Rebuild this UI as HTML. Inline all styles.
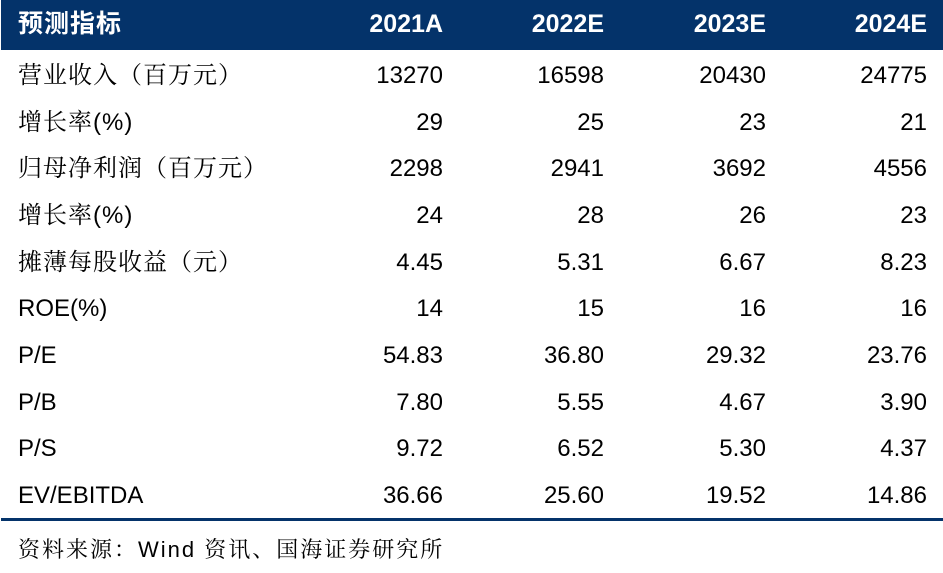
<!DOCTYPE html>
<html><head><meta charset="utf-8"><style>
body{margin:0;width:943px;height:573px;background:#fff;font-family:"Liberation Sans","Noto Serif CJK SC",serif;color:#000;position:relative;overflow:hidden}
.hdr{position:absolute;left:1px;top:0;width:942px;height:50px;background:#04336a}
.cell{position:absolute;white-space:nowrap;line-height:1}
.h{color:#fff;font-weight:bold;font-size:25px;top:12px;font-family:"Liberation Sans","Noto Sans CJK SC",sans-serif}
.r{font-size:24px}
.lab{letter-spacing:1px}
.line{position:absolute;left:1px;width:942px;top:518px;height:3px;background:#04336a}
.src{position:absolute;left:18px;top:533px;font-size:22px;letter-spacing:2px}
</style></head><body>
<div class="hdr"></div>
<div class="cell h" style="left:18px;letter-spacing:1px">预测指标</div>
<div class="cell h" style="right:500px">2021A</div>
<div class="cell h" style="right:339px">2022E</div>
<div class="cell h" style="right:177px">2023E</div>
<div class="cell h" style="right:16px">2024E</div>
<div id="rows"></div>
<div class="line"></div>
<div class="src">资料来源：Wind 资讯、国海证券研究所</div>
<script>
const labels=["营业收入（百万元）","增长率(%)","归母净利润（百万元）","增长率(%)","摊薄每股收益（元）","ROE(%)","P/E","P/B","P/S","EV/EBITDA"];
const v2021=["13270","29","2298","24","4.45","14","54.83","7.80","9.72","36.66"];
const v2022=["16598","25","2941","28","5.31","15","36.80","5.55","6.52","25.60"];
const v2023=["20430","23","3692","26","6.67","16","29.32","4.67","5.30","19.52"];
const v2024=["24775","21","4556","23","8.23","16","23.76","3.90","4.37","14.86"];
const cols=[v2021,v2022,v2023,v2024];
const rights=[500,339,177,16];
const box=document.getElementById('rows');
labels.forEach((lab,i)=>{
  const top=51+i*46.67+13;
  const l=document.createElement('div');
  l.className='cell r'+(/[\u4e00-\u9fff]/.test(lab)?' lab':'');l.style.left='18px';l.style.top=top+'px';l.textContent=lab;
  
  
  box.appendChild(l);
  cols.forEach((c,j)=>{
    const d=document.createElement('div');
    d.className='cell r';d.style.right=rights[j]+'px';d.style.top=top+'px';d.textContent=c[i];
    
    
    box.appendChild(d);
  });
});
</script>
</body></html>
